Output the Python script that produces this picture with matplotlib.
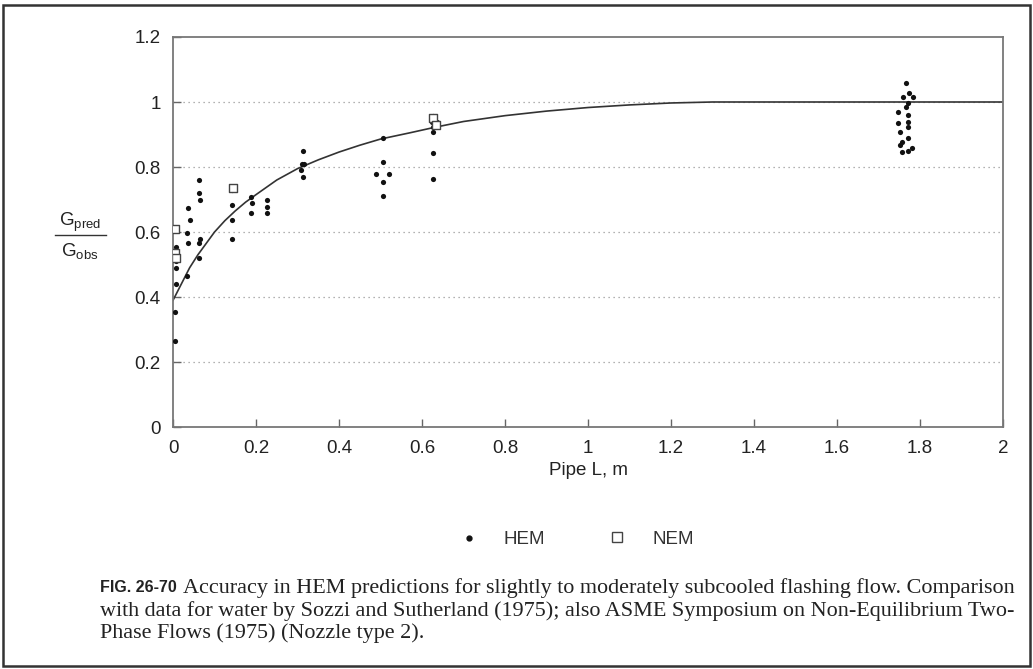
import matplotlib.pyplot as plt
from matplotlib.lines import Line2D
from matplotlib.patches import Rectangle

plt.rcParams['font.family'] = ['Liberation Sans', 'DejaVu Sans']
plt.rcParams['mathtext.fontset'] = 'custom'
plt.rcParams['mathtext.rm'] = 'Liberation Sans'

# HEM prediction curve
curve_x = [0.0, 0.02, 0.04, 0.06, 0.08, 0.1, 0.125, 0.15, 0.175, 0.2, 0.25, 0.3, 0.35,
           0.4, 0.45, 0.5, 0.57, 0.63, 0.7, 0.8, 0.9, 1.0, 1.1, 1.2, 1.3, 2.0]
curve_y = [0.39, 0.44, 0.49, 0.53, 0.565, 0.60, 0.635, 0.665, 0.692, 0.715, 0.76, 0.795, 0.822,
           0.846, 0.867, 0.886, 0.905, 0.922, 0.94, 0.958, 0.972, 0.983, 0.991, 0.997, 1.0, 1.0]

# measured ratios, HEM points
hem_x = [0.006, 0.006, 0.007, 0.006, 0.005, 0.004,
         0.037, 0.04, 0.034, 0.037, 0.034,
         0.063, 0.062, 0.065, 0.065, 0.062, 0.062,
         0.142, 0.142, 0.142, 0.142,
         0.187, 0.19, 0.187,
         0.226, 0.226, 0.226,
         0.313, 0.31, 0.316, 0.308, 0.313,
         0.505, 0.505, 0.49, 0.52, 0.505, 0.505,
         0.627, 0.624, 0.636, 0.627, 0.627, 0.627, 0.627,
         1.766, 1.773, 1.759, 1.783, 1.77, 1.765, 1.746, 1.77, 1.77,
         1.746, 1.77, 1.752, 1.77, 1.757, 1.752, 1.78, 1.757, 1.77]
hem_y = [0.555, 0.51, 0.49, 0.44, 0.355, 0.265,
         0.673, 0.637, 0.597, 0.566, 0.465,
         0.76, 0.72, 0.70, 0.58, 0.566, 0.52,
         0.73, 0.683, 0.637, 0.58,
         0.708, 0.69, 0.66,
         0.70, 0.677, 0.66,
         0.85, 0.81, 0.81, 0.79, 0.77,
         0.889, 0.815, 0.78, 0.78, 0.753, 0.71,
         0.957, 0.94, 0.94, 0.923, 0.908, 0.843, 0.763,
         1.058, 1.028, 1.015, 1.015, 0.997, 0.985, 0.97, 0.96, 0.94,
         0.935, 0.923, 0.908, 0.89, 0.877, 0.867, 0.858, 0.846, 0.85]

# NEM points
nem_x = [0.005, 0.005, 0.006, 0.145, 0.627, 0.633]
nem_y = [0.61, 0.535, 0.52, 0.735, 0.95, 0.93]

xticks = [0, 0.2, 0.4, 0.6, 0.8, 1, 1.2, 1.4, 1.6, 1.8, 2]
xtick_labels = ['0', '0.2', '0.4', '0.6', '0.8', '1', '1.2', '1.4', '1.6', '1.8', '2']
yticks = [0, 0.2, 0.4, 0.6, 0.8, 1, 1.2]
ytick_labels = ['0', '0.2', '0.4', '0.6', '0.8', '1', '1.2']

caption_lines = [
    "Accuracy in HEM predictions for slightly to moderately subcooled flashing flow. Comparison",
    "with data for water by Sozzi and Sutherland (1975); also ASME Symposium on Non-Equilibrium Two-",
    "Phase Flows (1975) (Nozzle type 2).",
]

fig = plt.figure(figsize=(10.33, 6.69), dpi=100)
ax = fig.add_axes([0.1675, 0.3617, 0.8035, 0.583])

for yv in yticks[1:-1]:
    ax.axhline(yv, color='#999999', lw=0.9, ls=(0, (1, 3)), zorder=1)

ax.plot(curve_x, curve_y, color='#333333', lw=1.2, zorder=2)
ax.scatter(hem_x, hem_y, s=14, marker='o', color='#111111', zorder=3, linewidths=0)
ax.scatter(nem_x, nem_y, s=40, marker='s', facecolors='white', edgecolors='#444444',
           linewidths=1.0, zorder=4)

ax.set_xlim(0, 2)
ax.set_ylim(0, 1.2)
ax.set_xticks(xticks)
ax.set_xticklabels(xtick_labels)
ax.set_yticks(yticks)
ax.set_yticklabels(ytick_labels)
ax.tick_params(direction='in', length=6, width=1, color='#666666', labelsize=13.5,
               labelcolor='#222222')
ax.tick_params(axis='x', pad=9)
ax.tick_params(axis='y', pad=9)
for sp in ax.spines.values():
    sp.set_color('#777777')
    sp.set_linewidth(1.3)

ax.set_xlabel('Pipe L, m', fontsize=13.5, color='#222222', labelpad=4)

# y label drawn as a fraction
fig.text(0.0775, 0.668, r'G$_{\mathrm{pred}}$', fontsize=13.5, ha='center', va='center',
         color='#222222')
fig.add_artist(Line2D([0.053, 0.103], [0.648, 0.648], color='#333333', lw=1.0))
fig.text(0.0775, 0.624, r'G$_{\mathrm{obs}}$', fontsize=13.5, ha='center', va='center',
         color='#222222')

# legend
fig.add_artist(Line2D([0.454], [0.196], marker='o', ms=3.5, color='#111111', lw=0))
fig.text(0.487, 0.193, 'HEM', fontsize=13.5, va='center', color='#333333')
fig.add_artist(Line2D([0.597], [0.197], marker='s', ms=7, mfc='white', mec='#444444',
                      mew=1.0, lw=0))
fig.text(0.632, 0.193, 'NEM', fontsize=13.5, va='center', color='#333333')

# caption
fig.text(0.097, 0.122, 'FIG. 26-70', fontsize=11.5, fontweight='bold', va='center',
         color='#222222')
fig.text(0.177, 0.121, caption_lines[0], fontsize=15.9, va='center',
         family=['Liberation Serif'], color='#222222')
fig.text(0.097, 0.087, caption_lines[1], fontsize=15.9, va='center',
         family=['Liberation Serif'], color='#222222')
fig.text(0.097, 0.054, caption_lines[2], fontsize=15.9, va='center',
         family=['Liberation Serif'], color='#222222')

# outer frame
fig.add_artist(Rectangle((0.003, 0.004), 0.994, 0.989, transform=fig.transFigure,
                         fill=False, edgecolor='#333333', lw=1.8))

fig.savefig('out.png', dpi=100)
